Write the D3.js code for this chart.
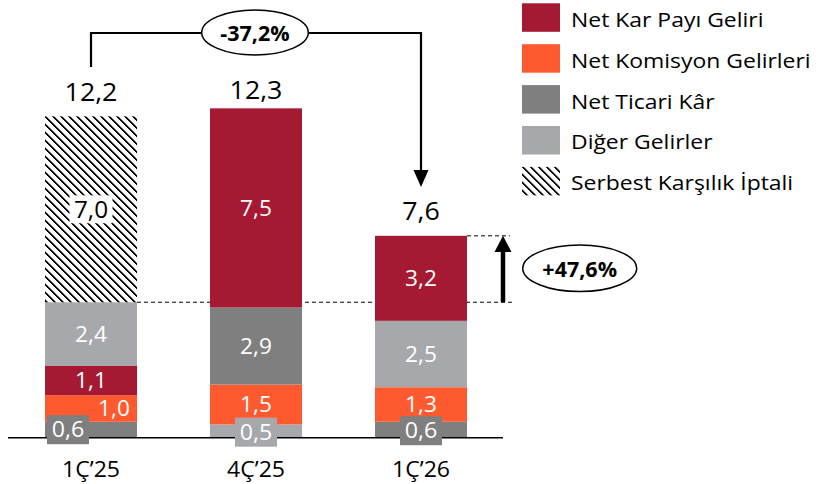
<!DOCTYPE html>
<html><head><meta charset="utf-8">
<script src="https://cdn.jsdelivr.net/npm/d3@7"></script>
<style>html,body{margin:0;padding:0;background:#fff}svg{display:block}</style>
</head><body>
<svg id="c" width="816" height="484"></svg>
<script>
const categories = ["1Ç’25", "4Ç’25", "1Ç’26"];
const seriesNames = ["Net Kar Payı Geliri", "Net Komisyon Gelirleri", "Net Ticari Kâr", "Diğer Gelirler", "Serbest Karşılık İptali"];
const netKarPayiGeliri = [1.1, 7.5, 3.2];
const netKomisyonGelirleri = [1.0, 1.5, 1.3];
const netTicariKar = [0.6, 2.9, 0.6];
const digerGelirler = [2.4, 0.5, 2.5];
const serbestKarsilikIptali = [7.0, 0, 0];
const totals = [12.2, 12.3, 7.6];
const stackOrder = [[2, 1, 0, 3, 4], [3, 1, 2, 0], [2, 1, 3, 0]];
const changeQoQ = "-37,2%";
const changeCore = "+47,6%";

const seriesValues = [netKarPayiGeliri, netKomisyonGelirleri, netTicariKar, digerGelirler, serbestKarsilikIptali];
const colors = ["#A51A32", "#FF5A2F", "#7F7F7F", "#A7A8AB", "url(#hatch)"];
const FONT = "'Open Sans', Lato, sans-serif";
const loc = d3.formatLocale({decimal: ",", thousands: ".", grouping: [3], currency: ["", ""]});
const fmt = loc.format(".1f");

const svg = d3.select("#c");
const defs = svg.append("defs");
const pat = defs.append("pattern").attr("id", "hatch").attr("patternUnits", "userSpaceOnUse")
  .attr("width", 8).attr("height", 8);
pat.append("rect").attr("width", 8).attr("height", 8).attr("fill", "#fff");
for (let i = 0; i < 8; i++) {
  pat.append("rect").attr("x", i).attr("y", i).attr("width", 2).attr("height", 1).attr("fill", "#000");
  pat.append("rect").attr("x", (i + 2) % 8).attr("y", i).attr("width", 1).attr("height", 1).attr("fill", "#999");
  if (i === 7) pat.append("rect").attr("x", 0).attr("y", 7).attr("width", 1).attr("height", 1).attr("fill", "#000");
}

// helper: text with slight horizontal stretch
function txt(g, xp, yp, s, opt) {
  const o = Object.assign({size: 20, sx: 1.1, anchor: "middle", fill: "#000", weight: "normal", dy: "0"}, opt);
  return g.append("text")
    .attr("transform", `translate(${xp},${yp}) scale(${o.sx},1)`)
    .attr("text-anchor", o.anchor).attr("dy", o.dy)
    .attr("font-family", FONT).attr("font-size", o.size).attr("font-weight", o.weight)
    .attr("fill", o.fill).text(s);
}

const baseY = 437.7;
const x = d3.scaleBand().domain(categories).range([45, 467]).paddingInner(73 / 165).paddingOuter(0);
const y = d3.scaleLinear().domain([0, 12.3]).range([baseY, 111]);
const bw = x.bandwidth();

// stacked segments
const segs = [];
categories.forEach((c, ci) => {
  let acc = 0;
  stackOrder[ci].forEach(si => {
    const v = seriesValues[si][ci];
    segs.push({c, ci, si, v, y0: acc, y1: acc + v});
    acc += v;
  });
});

// dashed reference lines (behind bars)
const refLevel = segs.find(s => s.ci === 0 && s.si === 3).y1;
const gRef = svg.append("g").attr("stroke", "#000").attr("stroke-width", 1).attr("stroke-dasharray", "4,3");
gRef.append("line").attr("x1", x(categories[0]) + bw).attr("x2", 512).attr("y1", y(refLevel)).attr("y2", y(refLevel));

svg.append("g").selectAll("rect").data(segs).join("rect")
  .attr("x", d => x(d.c)).attr("width", bw)
  .attr("y", d => y(d.y1)).attr("height", d => y(d.y0) - y(d.y1))
  .attr("fill", d => colors[d.si]);

gRef.append("line").attr("x1", x(categories[2]) + bw).attr("x2", 510).attr("y1", y(totals[2])).attr("y2", y(totals[2]));

// axis
const axis = svg.append("g").attr("transform", `translate(0,${baseY})`)
  .call(d3.axisBottom(x).tickSize(0).tickPadding(0));
axis.select(".domain").remove();
axis.selectAll(".tick text").attr("y", 39.6).attr("dy", "0")
  .attr("transform", "scale(1.05,1)")
  .attr("font-family", FONT).attr("font-size", 22).attr("fill", "#000");
axis.selectAll(".tick").attr("transform", d => `translate(${x(d) + bw / 2},0)`);
svg.append("line").attr("x1", 8).attr("x2", 503).attr("y1", baseY).attr("y2", baseY)
  .attr("stroke", "#000").attr("stroke-width", 1.5);

// value labels
const gl = svg.append("g");
segs.filter(d => d.v > 0).forEach(d => {
  const cx = x(d.c) + bw / 2;
  const cy = (y(d.y0) + y(d.y1)) / 2;
  if (d.v < 0.8) {
    const bx = d.ci === 0 ? x(d.c) + 2 : cx - 21;
    const by = y(d.y0) - 22.5 + (d.ci === 1 ? 2.5 : d.ci === 2 ? 1 : 0);
    gl.append("rect").attr("x", bx).attr("y", by).attr("width", 42).attr("height", 29).attr("fill", colors[d.si]);
    txt(gl, bx + 21, by + 14.5, fmt(d.v), {size: 21.5, sx: 1.08, fill: "#fff", dy: "0.36em"});
  } else if (d.si === 4) {
    gl.append("rect").attr("x", cx - 21.5).attr("y", cy - 14).attr("width", 43).attr("height", 28).attr("fill", "#fff");
    txt(gl, cx, cy, fmt(d.v), {size: 23, sx: 1.06, fill: "#000", dy: "0.36em"});
  } else {
    const shift = (d.ci === 0 && d.si === 1) ? 23 : 0;
    txt(gl, cx + shift, cy, fmt(d.v), {size: 21, sx: 1.08, fill: "#fff", dy: "0.36em"});
  }
});

// totals
const gt = svg.append("g");
totals.forEach((t, i) => {
  txt(gt, x(categories[i]) + bw / 2, y(t) - (i === 2 ? 15.5 : 12.5), fmt(t), {size: 26, sx: 1.03});
});

// top bracket with -37,2%
const xl = x(categories[0]) + bw / 2, xr = x(categories[2]) + bw / 2;
const ann = svg.append("g").attr("stroke", "#000").attr("fill", "none");
ann.append("path").attr("d", `M${xl},67 V33 H201.7 M308.3,33 H${xr} V172`).attr("stroke-width", 2.2);
ann.append("path").attr("d", `M${xr - 7.5},170 L${xr + 7.5},170 L${xr},187 Z`).attr("fill", "#000").attr("stroke", "none");
ann.append("ellipse").attr("cx", 255).attr("cy", 32.5).attr("rx", 53.3).attr("ry", 22.5).attr("stroke-width", 1.5).attr("fill", "#fff");
txt(svg, 255, 33, changeQoQ, {size: 21.5, sx: 1.0, weight: "bold", dy: "0.36em"});

// up arrow with +47,6%
const ax = 503;
ann.append("line").attr("x1", ax).attr("x2", ax).attr("y1", y(refLevel)).attr("y2", 250).attr("stroke-width", 4.5);
ann.append("path").attr("d", `M${ax - 8.5},252 L${ax + 8.5},252 L${ax},${y(totals[2])} Z`).attr("fill", "#000").attr("stroke", "none");
ann.append("ellipse").attr("cx", 579.7).attr("cy", 268.3).attr("rx", 57).attr("ry", 23.3).attr("stroke-width", 1.5).attr("fill", "#fff");
txt(svg, 579.7, 269, changeCore, {size: 21.5, sx: 1.0, weight: "bold", dy: "0.36em"});

// legend
const lg = svg.append("g").selectAll("g").data(seriesNames).join("g")
  .attr("transform", (d, i) => `translate(522,${3.3 + i * 40.9})`);
lg.append("rect").attr("width", 38).attr("height", 28.5).attr("fill", (d, i) => colors[i]);
lg.each(function(d) { txt(d3.select(this), 49, 23.4, d, {size: 19.6, sx: 1.17, anchor: "start"}); });
</script>
</body></html>
